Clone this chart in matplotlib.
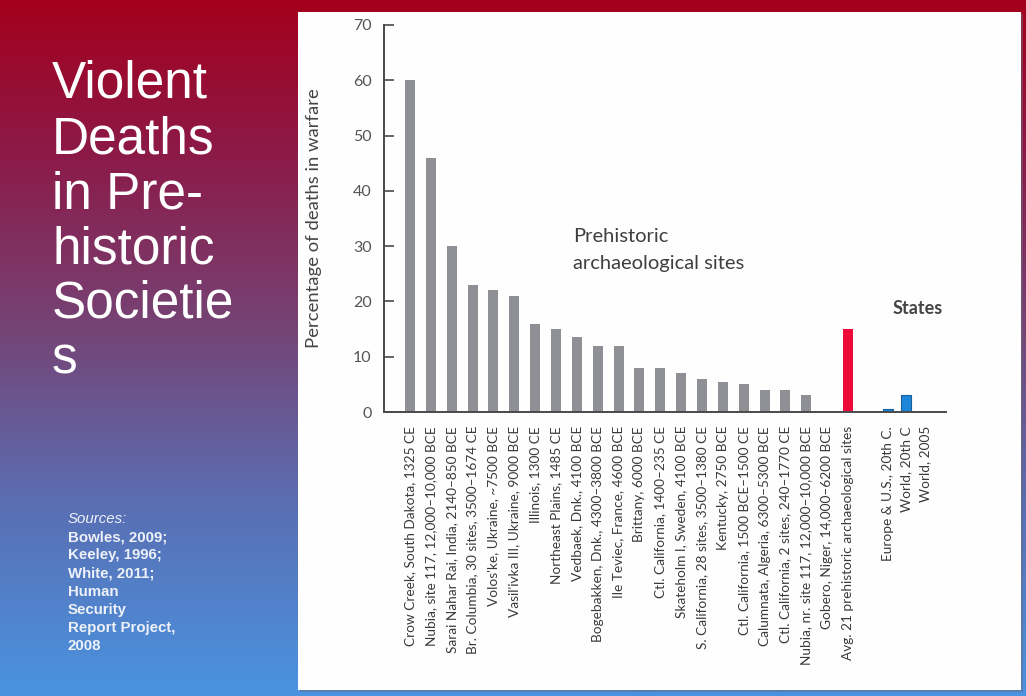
import numpy as np
import matplotlib
matplotlib.use("Agg")
import matplotlib.pyplot as plt
from matplotlib.colors import LinearSegmentedColormap
from matplotlib.patches import Rectangle

# ---- data -------------------------------------------------------------
prehistoric_sites = [
    "Crow Creek, South Dakota, 1325 CE",
    "Nubia, site 117, 12,000\u201310,000 BCE",
    "Sarai Nahar Rai, India, 2140\u2013850 BCE",
    "Br. Columbia, 30 sites, 3500\u20131674 CE",
    "Volos'ke, Ukraine, ~7500 BCE",
    "Vasil'ivka III, Ukraine, 9000 BCE",
    "Illinois, 1300 CE",
    "Northeast Plains, 1485 CE",
    "Vedbaek, Dnk., 4100 BCE",
    "Bogebakken, Dnk., 4300\u20133800 BCE",
    "Ile Teviec, France, 4600 BCE",
    "Brittany, 6000 BCE",
    "Ctl. California, 1400\u2013235 CE",
    "Skateholm I, Sweden, 4100 BCE",
    "S. California, 28 sites, 3500\u20131380 CE",
    "Kentucky, 2750 BCE",
    "Ctl. California, 1500 BCE\u20131500 CE",
    "Calumnata, Algeria, 6300\u20135300 BCE",
    "Ctl. California, 2 sites, 240\u20131770 CE",
    "Nubia, nr. site 117, 12,000\u201310,000 BCE",
    "Gobero, Niger, 14,000\u20136200 BCE",
    "Avg. 21 prehistoric archaeological sites",
]
prehistoric_pct = [60, 46, 30, 23, 22, 21, 16, 15, 13.5, 12, 12, 8, 8, 7, 6,
                   5.5, 5, 4, 4, 3, 0, 15]

state_labels = ["Europe & U.S., 20th C.", "World, 20th C", "World, 2005"]
state_pct = [0.6, 3, 0.04]

y_ticks = [0, 10, 20, 30, 40, 50, 60, 70]

title_lines = ["Violent", "Deaths", "in Pre-", "historic", "Societie", "s"]
source_lines = ["Bowles, 2009;", "Keeley, 1996;", "White, 2011;", "Human",
                "Security", "Report Project,", "2008"]

# ---- figure -----------------------------------------------------------
W, H = 1026, 696
fig = plt.figure(figsize=(W / 100, H / 100), dpi=100)


def fx(x):
    return x / W


def fy(y):
    return 1 - y / H


# slide background: crimson to blue vertical gradient
bg = fig.add_axes([0, 0, 1, 1], zorder=-2)
grad_cmap = LinearSegmentedColormap.from_list(
    "slide",
    [(0.0, "#a4001c"), (0.22, "#8c1a48"), (0.48, "#744577"),
     (0.72, "#5a6eb2"), (1.0, "#4a93e0")])
bg.imshow(np.linspace(0, 1, 256).reshape(-1, 1), cmap=grad_cmap,
          aspect="auto", extent=[0, 1, 0, 1])
# white chart panel with a faint drop shadow
bg.add_patch(Rectangle((fx(300), fy(692)), fx(1023) - fx(300),
                       fy(14) - fy(692), facecolor="#6a6a7a", alpha=0.45,
                       edgecolor="none"))
bg.add_patch(Rectangle((fx(298), fy(690)), fx(1021) - fx(298),
                       fy(12) - fy(690), facecolor="#fefefe",
                       edgecolor="none"))
bg.set_xlim(0, 1)
bg.set_ylim(0, 1)
bg.axis("off")

# left-hand title and sources
for i, line in enumerate(title_lines):
    fig.text(fx(52), fy(98 + 55 * i), line, color="white",
             fontsize=37, family="Liberation Sans", va="baseline",
             ha="left")
fig.text(fx(68), fy(519), "Sources:", color="#eef2f8", fontsize=10.8,
         family="Liberation Sans", style="italic", va="center", ha="left")
for i, line in enumerate(source_lines):
    fig.text(fx(68), fy(537 + 18.2 * i), line, color="#eef2f8",
             fontsize=10.8, family="Liberation Sans", fontweight="bold",
             va="center", ha="left")

# ---- bar chart --------------------------------------------------------
ax = fig.add_axes([fx(384), fy(412), fx(946) - fx(384), fy(25) - fy(412)])
ax.patch.set_alpha(0)

pre_x = np.arange(len(prehistoric_pct))
state_x = 22.92 + 0.88 * np.arange(len(state_pct))

pre_colors = ["#8e9095"] * (len(prehistoric_pct) - 1) + ["#ec0a38"]
ax.bar(pre_x, prehistoric_pct, width=0.48, color=pre_colors)
ax.bar(state_x, state_pct, width=0.48, color="#1d86d8",
       edgecolor="#17619f", linewidth=0.8)

ax.set_xlim(-1.25, 25.7)
ax.set_ylim(0, 70)

for side in ("top", "right"):
    ax.spines[side].set_visible(False)
for side in ("left", "bottom"):
    ax.spines[side].set_color("#4a4a4a")
    ax.spines[side].set_linewidth(1.4)

ax.set_yticks(y_ticks)
ax.tick_params(axis="y", direction="in", length=7, width=1.2,
               color="#4a4a4a", labelsize=11.5, labelcolor="#555555", pad=9)
for t in ax.get_yticklabels():
    t.set_family("Lato")

ax.set_xticks(np.concatenate([pre_x, state_x]))
ax.set_xticklabels(prehistoric_sites + state_labels, rotation=90,
                   fontsize=9.8, family="Lato", color="#3a3a3a",
                   ha="center", va="top")
ax.tick_params(axis="x", length=0, pad=10)

ax.set_ylabel("Percentage of deaths in warfare", family="Lato",
              fontsize=13.3, color="#444444", labelpad=22)

fig.text(fx(573), fy(236), "Prehistoric", family="Lato", fontsize=14.5,
         color="#3f3f3f", va="center", ha="left")
fig.text(fx(573), fy(263), "archaeological sites", family="Lato",
         fontsize=14.5, color="#3f3f3f", va="center", ha="left")
fig.text(fx(918), fy(308), "States", family="Lato", fontsize=13,
         fontweight="bold", color="#444444", va="center", ha="center")

fig.savefig("out.png", dpi=100)
